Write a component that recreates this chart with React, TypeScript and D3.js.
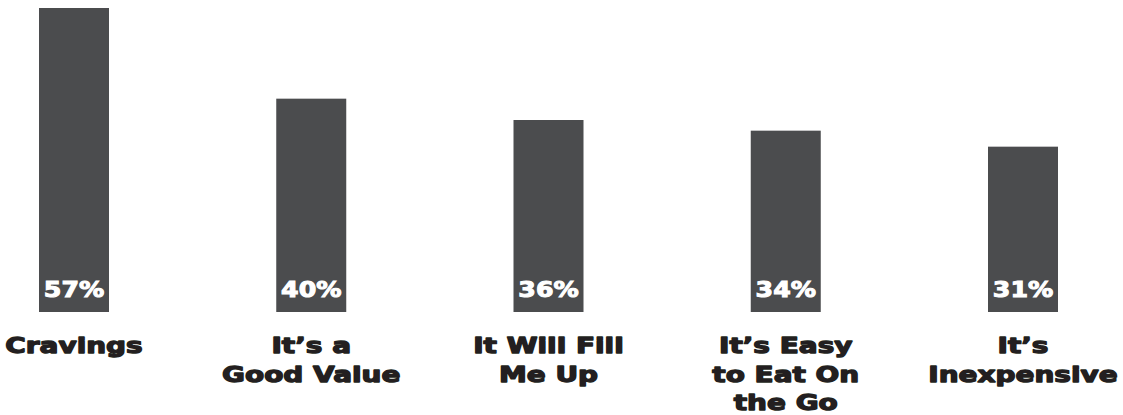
import React from "react";
import * as d3 from "d3";

const categories = ["Cravings", "It’s a\nGood Value", "It Will Fill\nMe Up", "It’s Easy\nto Eat On\nthe Go", "It’s\nInexpensive"];
const values = [57, 40, 36, 34, 31];
const valueLabels = ["57%", "40%", "36%", "34%", "31%"];

const W = 1123;
const H = 415;
const FONT = "'DejaVu Sans', 'Liberation Sans', Arial, sans-serif";

export default function App() {
  const x = d3.scalePoint<string>().domain(categories).range([74, 1023]);
  const y = d3.scaleLinear().domain([0, 57]).range([312, 8]);
  const barW = 70;

  return (
    <svg width={W} height={H} style={{ position: "absolute", left: 0, top: 0 }}>
      <rect width={W} height={H} fill="#ffffff" />
      {categories.map((c, i) => {
        const cx = x(c) as number;
        const lines = c.split("\n");
        return (
          <g key={c}>
            <rect x={cx - barW / 2} y={y(values[i])} width={barW} height={y(0) - y(values[i])} fill="#4b4c4e" />
            <g transform={`translate(${cx},0) scale(1.23,1)`}>
              <text x={0} y={y(0) - 15} textAnchor="middle" fill="#ffffff" stroke="#ffffff" strokeWidth={1}
                fontFamily={FONT} fontWeight={700} fontSize={20.5}>
                {valueLabels[i]}
              </text>
            </g>
            <g transform={`translate(${cx},0) scale(1.3,1)`}>
              <text textAnchor="middle" fill="#231f20" stroke="#231f20" strokeWidth={1.3} strokeLinejoin="round"
                fontFamily={FONT} fontWeight={700} fontSize={21.5}>
                {lines.map((l, j) => (
                  <tspan key={j} x={0} y={353.5 + j * 28.5}>{l}</tspan>
                ))}
              </text>
            </g>
          </g>
        );
      })}
    </svg>
  );
}
